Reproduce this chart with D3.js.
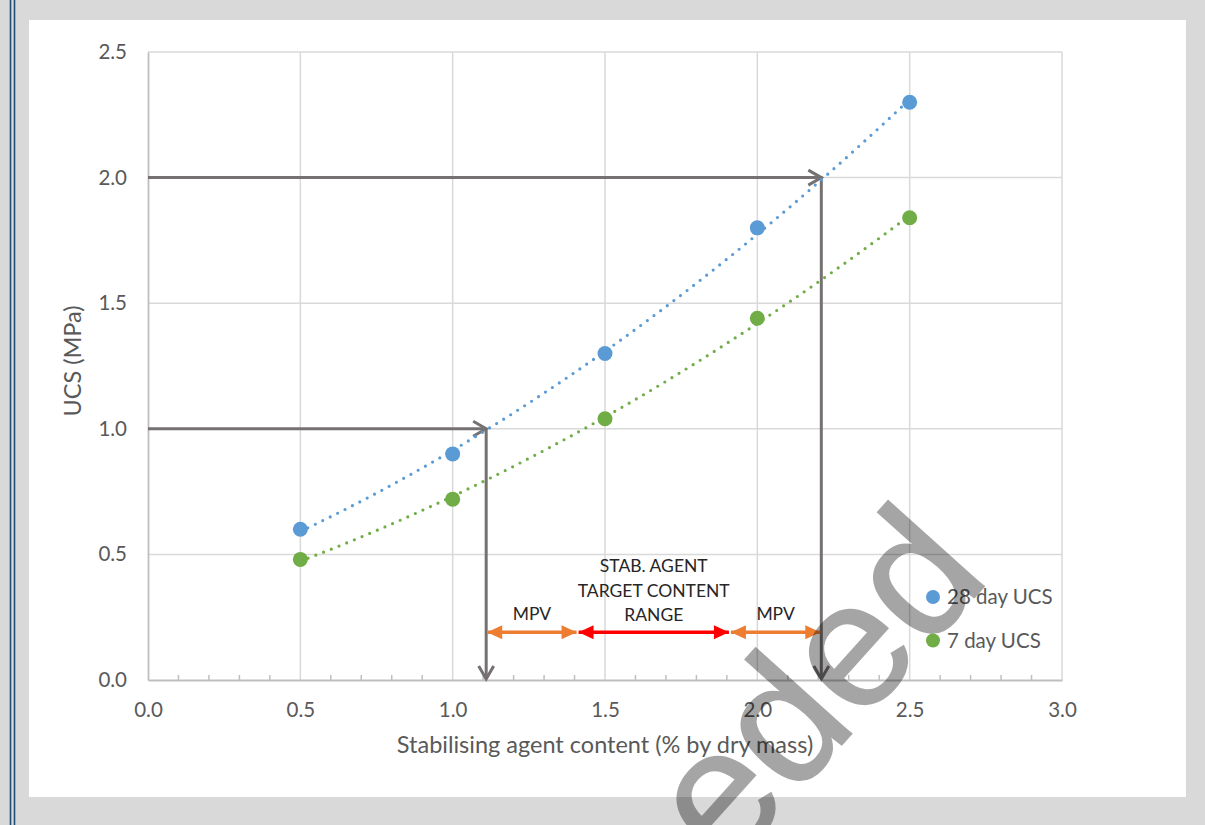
<!DOCTYPE html>
<html>
<head>
<meta charset="utf-8">
<script src="https://cdn.jsdelivr.net/npm/d3@7"></script>
<style>
  html, body { margin: 0; padding: 0; background: #d9d9d9; }
  svg { display: block; }
</style>
</head>
<body>
<svg id="chart" width="1205" height="825"></svg>
<script>
// ---------- data ----------
const contentPct = [0.5, 1.0, 1.5, 2.0, 2.5];
const ucs28 = [0.60, 0.90, 1.30, 1.80, 2.30];
const ucs7 = [0.48, 0.72, 1.04, 1.44, 1.84];
const seriesNames = ["28 day UCS", "7 day UCS"];
const xTickValues = [0.0, 0.5, 1.0, 1.5, 2.0, 2.5, 3.0];
const yTickValues = [0.0, 0.5, 1.0, 1.5, 2.0, 2.5];
const xTitle = "Stabilising agent content (% by dry mass)";
const yTitle = "UCS (MPa)";
// annotation: target UCS values and matching contents
const targetUCS = [1.0, 2.0];
const targetContent = [1.11, 2.21];
// range arrows: bounds along x and level in MPa
const rangeBounds = [1.11, 1.41, 1.91, 2.21];
const rangeKinds = ["mpv", "range", "mpv"];
const rangeLevel = 0.19;
const mpvLabel = "MPV";
const rangeLabelLines = ["STAB. AGENT", "TARGET CONTENT", "RANGE"];
const watermark = "Superseded";

// ---------- setup ----------
const svg = d3.select("#chart");
const W = 1205, H = 825;
const x = d3.scaleLinear().domain([0, 3]).range([148, 1062]);
const y = d3.scaleLinear().domain([0, 2.5]).range([680, 52]);
const colors = ["#5b9bd5", "#70ad47"];
const font = "Lato, Carlito, 'Open Sans', sans-serif";

svg.append("rect").attr("width", W).attr("height", H).attr("fill", "#d9d9d9");
// left double border
[10.5, 14.5].forEach(px => svg.append("line")
  .attr("x1", px).attr("x2", px).attr("y1", 0).attr("y2", H)
  .attr("stroke", "#1f4e79").attr("stroke-width", 1.6));
// white chart area
svg.append("rect").attr("x", 29).attr("y", 20).attr("width", 1157).attr("height", 777).attr("fill", "#fff");

const defs = svg.append("defs");
defs.append("marker").attr("id", "chev")
  .attr("viewBox", "-16 -10 20 20").attr("refX", 0).attr("refY", 0)
  .attr("markerWidth", 20).attr("markerHeight", 20).attr("markerUnits", "userSpaceOnUse")
  .attr("orient", "auto")
  .append("path").attr("d", "M-13,-7.5L0,0L-13,7.5")
  .attr("fill", "none").attr("stroke", "#757171").attr("stroke-width", 3)
  .attr("stroke-linejoin", "miter");
function triMarker(id, color) {
  defs.append("marker").attr("id", id)
    .attr("viewBox", "-16 -8 17 16").attr("refX", 0).attr("refY", 0)
    .attr("markerWidth", 17).attr("markerHeight", 16).attr("markerUnits", "userSpaceOnUse")
    .attr("orient", "auto-start-reverse")
    .append("path").attr("d", "M-15,-7L0,0L-15,7Z").attr("fill", color);
}
triMarker("triO", "#ed7d31");
triMarker("triR", "#ff0000");

// ---------- grid ----------
const g = svg.append("g");
g.append("g").selectAll("line").data(yTickValues.filter(v => v > 0)).join("line")
  .attr("x1", x(0)).attr("x2", x(3)).attr("y1", d => y(d)).attr("y2", d => y(d))
  .attr("stroke", "#d9d9d9").attr("stroke-width", 1.5);
g.append("g").selectAll("line").data(xTickValues.filter(v => v > 0)).join("line")
  .attr("x1", d => x(d)).attr("x2", d => x(d)).attr("y1", y(0)).attr("y2", y(2.5))
  .attr("stroke", "#d9d9d9").attr("stroke-width", 1.5);

// axes
const xAxis = d3.axisBottom(x).tickValues(xTickValues).tickFormat(d3.format(".1f")).tickSize(0).tickPadding(22);
const gx = svg.append("g").attr("transform", `translate(0,${y(0)})`).call(xAxis);
gx.select(".domain").attr("stroke", "#bfbfbf").attr("stroke-width", 1.8);
gx.selectAll("text").attr("font-family", font).attr("font-size", 20.5).attr("fill", "#595959");
// minor ticks
const minor = d3.range(1, 30).map(i => i / 10).filter(v => Math.abs(v * 2 - Math.round(v * 2)) > 1e-6);
svg.append("g").selectAll("line").data(minor).join("line")
  .attr("x1", d => x(d)).attr("x2", d => x(d)).attr("y1", y(0)).attr("y2", y(0) - 5)
  .attr("stroke", "#bfbfbf").attr("stroke-width", 1.5);

const yAxis = d3.axisLeft(y).tickValues(yTickValues).tickFormat(d3.format(".1f")).tickSize(0).tickPadding(21);
const gy = svg.append("g").attr("transform", `translate(${x(0)},0)`).call(yAxis);
gy.select(".domain").attr("stroke", "#bfbfbf").attr("stroke-width", 1.8);
gy.selectAll("text").attr("font-family", font).attr("font-size", 20.5).attr("fill", "#595959");

// axis titles
svg.append("text").attr("x", 605).attr("y", 753)
  .attr("text-anchor", "middle").attr("font-family", font).attr("font-size", 23.5)
  .attr("fill", "#595959").text(xTitle);
svg.append("text").attr("transform", `translate(81,361) rotate(-90)`)
  .attr("text-anchor", "middle").attr("font-family", font).attr("font-size", 23.5)
  .attr("fill", "#595959").text(yTitle);

// ---------- annotations (gray arrows) ----------
const ann = svg.append("g");
targetUCS.forEach((u, i) => {
  ann.append("line").attr("x1", x(0)).attr("y1", y(u)).attr("x2", x(targetContent[i])).attr("y2", y(u))
    .attr("stroke", "#757171").attr("stroke-width", 3).attr("marker-end", "url(#chev)");
  ann.append("line").attr("x1", x(targetContent[i])).attr("y1", y(u) - 1).attr("x2", x(targetContent[i])).attr("y2", y(0) - 1)
    .attr("stroke", "#757171").attr("stroke-width", 3).attr("marker-end", "url(#chev)");
});

// ---------- series ----------
const seriesData = [ucs28, ucs7];
function quadFit(xs, ys) {
  let s = [0, 0, 0, 0, 0], t = [0, 0, 0];
  xs.forEach((xv, i) => {
    for (let k = 0; k < 5; k++) s[k] += Math.pow(xv, k);
    for (let k = 0; k < 3; k++) t[k] += Math.pow(xv, k) * ys[i];
  });
  const A = [[s[0], s[1], s[2], t[0]], [s[1], s[2], s[3], t[1]], [s[2], s[3], s[4], t[2]]];
  for (let c = 0; c < 3; c++) {
    for (let r = c + 1; r < 3; r++) {
      const f = A[r][c] / A[c][c];
      for (let k = c; k < 4; k++) A[r][k] -= f * A[c][k];
    }
  }
  const co = [0, 0, 0];
  for (let r = 2; r >= 0; r--) {
    let v = A[r][3];
    for (let k = r + 1; k < 3; k++) v -= A[r][k] * co[k];
    co[r] = v / A[r][r];
  }
  return xv => co[0] + co[1] * xv + co[2] * xv * xv;
}
const line = d3.line().x(d => x(d[0])).y(d => y(d[1]));
seriesData.forEach((vals, si) => {
  svg.append("g").selectAll("circle").data(contentPct).join("circle")
    .attr("cx", d => x(d)).attr("cy", (d, i) => y(vals[i])).attr("r", 7.5)
    .attr("fill", colors[si]);
});
seriesData.forEach((vals, si) => {
  const f = quadFit(contentPct, vals);
  const xs = d3.range(0, 101).map(i => contentPct[0] + (contentPct[contentPct.length - 1] - contentPct[0]) * i / 100);
  svg.append("path").attr("d", line(xs.map(v => [v, f(v)])))
    .attr("fill", "none").attr("stroke", colors[si]).attr("stroke-width", 3.2)
    .attr("stroke-linecap", "round").attr("stroke-dasharray", "0,8.3");
});

// ---------- range arrows ----------
rangeKinds.forEach((k, i) => {
  const c = k === "mpv" ? "#ed7d31" : "#ff0000";
  const m = k === "mpv" ? "url(#triO)" : "url(#triR)";
  svg.append("line")
    .attr("x1", x(rangeBounds[i]) + 1).attr("x2", x(rangeBounds[i + 1]) - 1)
    .attr("y1", y(rangeLevel)).attr("y2", y(rangeLevel))
    .attr("stroke", c).attr("stroke-width", 3.3)
    .attr("marker-start", m).attr("marker-end", m);
  const cx = x((rangeBounds[i] + rangeBounds[i + 1]) / 2);
  if (k === "mpv") {
    svg.append("text").attr("x", cx).attr("y", 620).attr("text-anchor", "middle")
      .attr("font-family", font).attr("font-size", 17.5).attr("fill", "#262626").text(mpvLabel);
  } else {
    const t = svg.append("text").attr("text-anchor", "middle")
      .attr("font-family", font).attr("font-size", 17.5).attr("fill", "#262626");
    rangeLabelLines.forEach((s, j) => t.append("tspan").attr("x", cx).attr("y", 572 + j * 24.5).text(s));
  }
});

// ---------- legend ----------
const lg = svg.append("g").attr("transform", "translate(933,597)");
seriesNames.forEach((n, i) => {
  lg.append("circle").attr("cx", 0).attr("cy", i * 43.5).attr("r", 7).attr("fill", colors[i]);
  lg.append("text").attr("x", 14).attr("y", i * 43.5 + 7).attr("font-family", font)
    .attr("font-size", 20.5).attr("fill", "#595959").text(n);
});

// ---------- watermark ----------
svg.append("text").attr("transform", "translate(992,578) rotate(-48)")
  .attr("text-anchor", "end").attr("font-family", "'Liberation Sans', Arial, sans-serif")
  .attr("font-size", 178).attr("fill", "#000").attr("stroke", "#000").attr("stroke-width", 1.5)
  .attr("opacity", 0.35).text(watermark);
</script>
</body>
</html>
